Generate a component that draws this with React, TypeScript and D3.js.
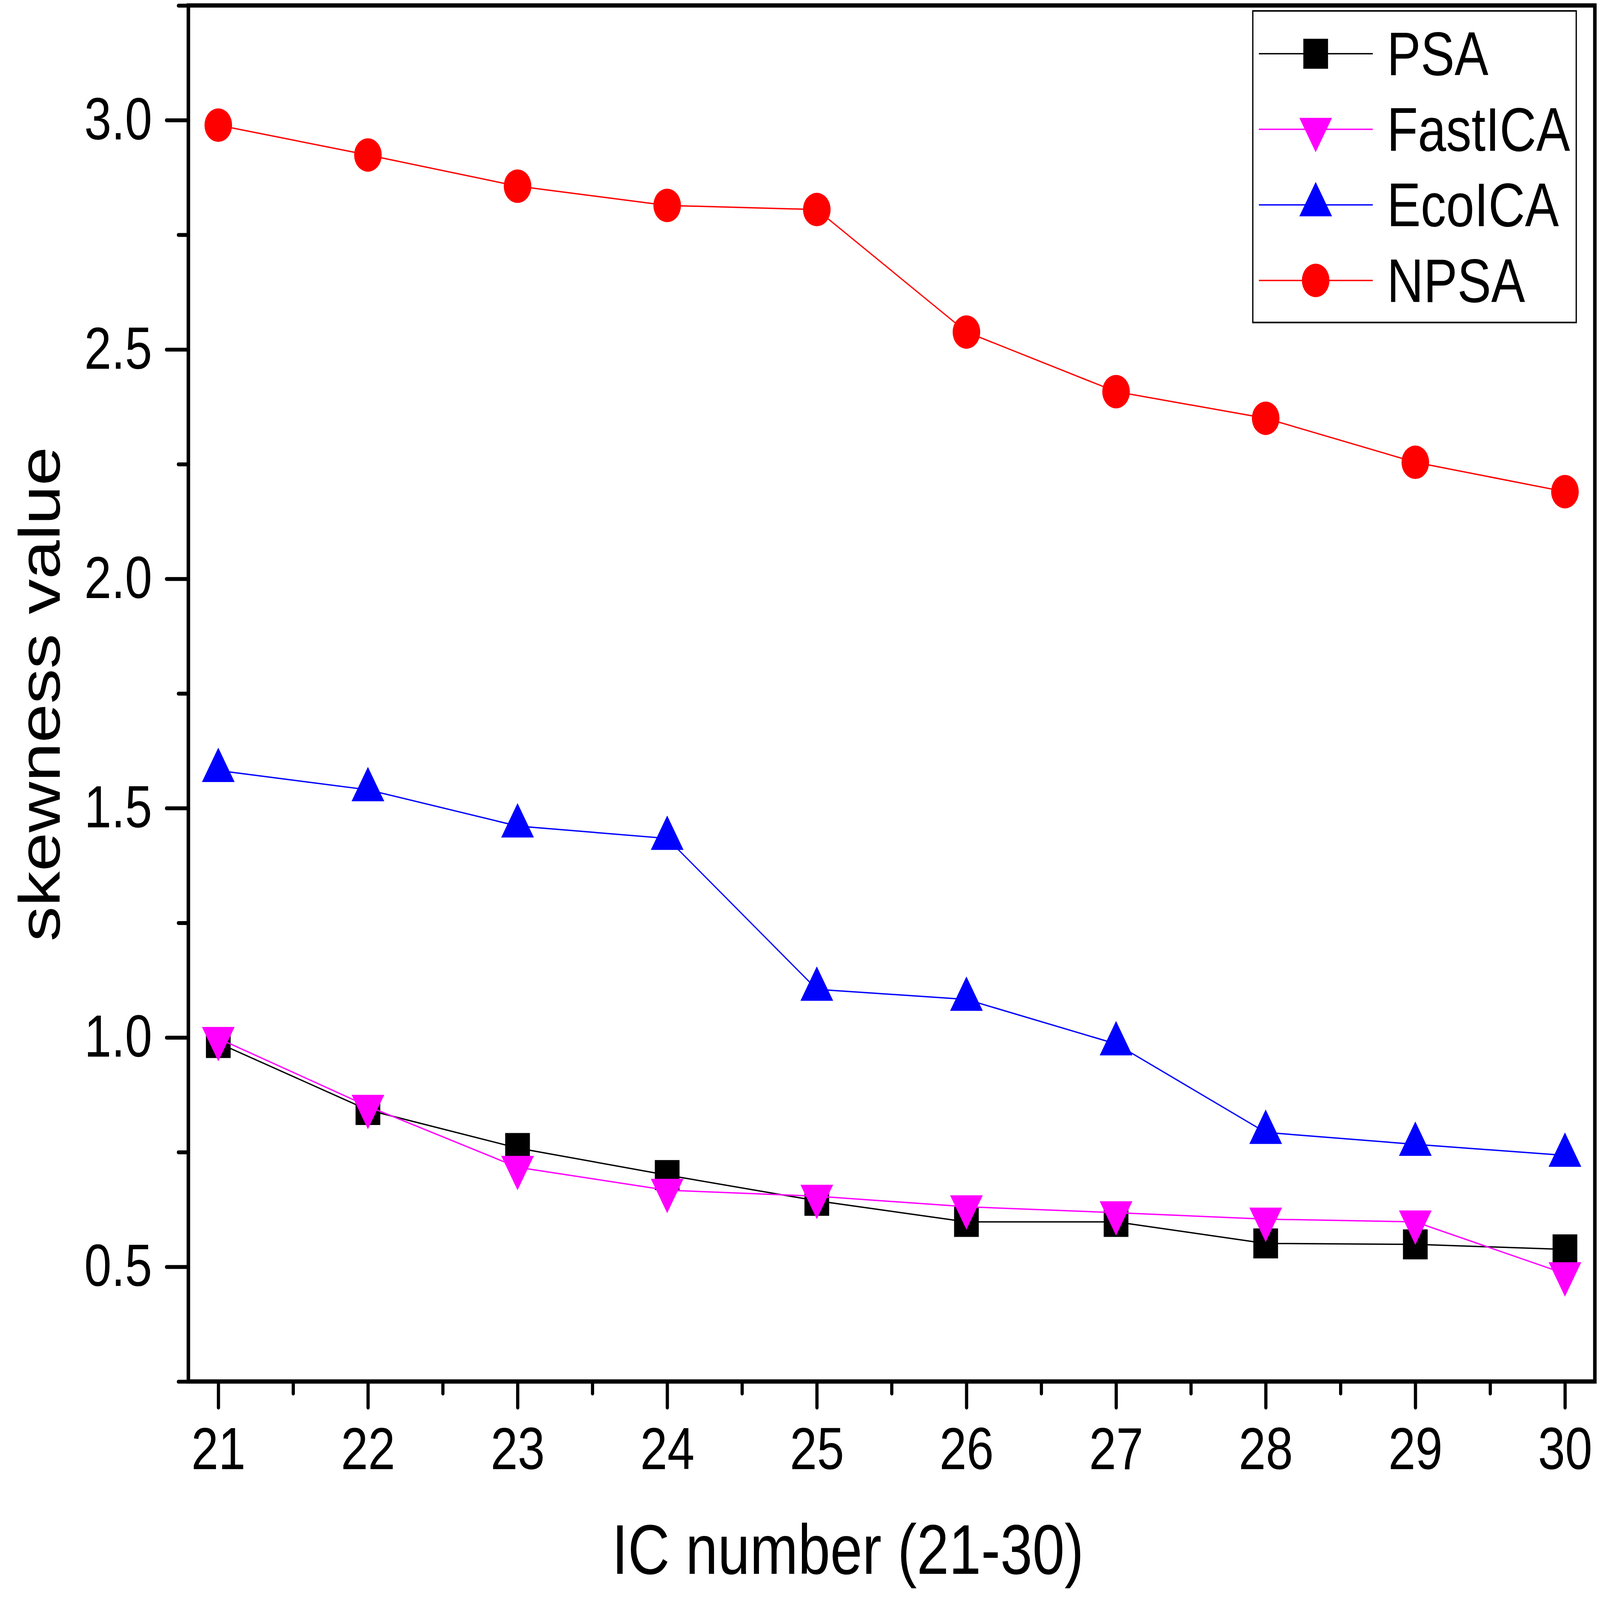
import React, { useEffect, useRef } from 'react'
import * as d3 from 'd3'

const icNumbers = [21, 22, 23, 24, 25, 26, 27, 28, 29, 30]
const psa = [0.988, 0.842, 0.759, 0.7, 0.644, 0.598, 0.598, 0.551, 0.549, 0.538]
const fastIca = [0.998, 0.85, 0.717, 0.667, 0.654, 0.631, 0.618, 0.604, 0.598, 0.485]
const ecoIca = [1.582, 1.54, 1.461, 1.434, 1.105, 1.083, 0.986, 0.793, 0.767, 0.743]
const npsa = [2.989, 2.924, 2.856, 2.814, 2.805, 2.538, 2.408, 2.35, 2.254, 2.19]

const xMajor = [21, 22, 23, 24, 25, 26, 27, 28, 29, 30]
const xMinor = [21.5, 22.5, 23.5, 24.5, 25.5, 26.5, 27.5, 28.5, 29.5]
const yMajor = [0.5, 1.0, 1.5, 2.0, 2.5, 3.0]
const yMinor = [0.25, 0.75, 1.25, 1.75, 2.25, 2.75, 3.25]

const seriesNames = ['PSA', 'FastICA', 'EcoICA', 'NPSA']

export default function App() {
  const svgRef = useRef<SVGSVGElement>(null)

  useEffect(() => {
    if (!svgRef.current) return
    document.body.style.margin = '0'
    document.body.style.overflow = 'hidden'

    const width = 4986
    const height = 4108
    const font = "'Liberation Sans', Arial, sans-serif"

    const left = 587, right = 4970, top = 14, bottom = 3547

    const x = d3.scaleLinear().domain([20.8, 30.2]).range([left, right])
    const y = d3.scaleLinear().domain([0.25, 3.25]).range([bottom, top])

    const svg = d3.select(svgRef.current)
    svg.selectAll('*').remove()
    svg.attr('viewBox', [0, 0, width, height])
      .attr('preserveAspectRatio', 'none')
      .style('font-family', font)
      .style('background', '#fff')

    const series = [
      { name: seriesNames[0], values: psa, color: '#000000', symbol: d3.symbolSquare, size: 77 * 77, rotate: 0 },
      { name: seriesNames[1], values: fastIca, color: '#FF00FF', symbol: d3.symbolTriangle, size: 4500, rotate: 180 },
      { name: seriesNames[2], values: ecoIca, color: '#0000FF', symbol: d3.symbolTriangle, size: 4500, rotate: 0 },
      { name: seriesNames[3], values: npsa, color: '#FF0000', symbol: d3.symbolCircle, size: Math.PI * 43 * 43, rotate: 0 }
    ]

    // axes
    const xAxis = svg.append('g').attr('transform', `translate(0,${bottom})`)
    xAxis.call(d3.axisBottom(x).tickValues(xMajor).tickSize(67).tickPadding(50).tickFormat(d3.format('d')))
    const xAxisMinor = svg.append('g').attr('transform', `translate(0,${bottom})`)
    xAxisMinor.call(d3.axisBottom(x).tickValues(xMinor).tickSize(31).tickFormat(() => ''))

    const yAxis = svg.append('g').attr('transform', `translate(${left},0)`)
    yAxis.call(d3.axisLeft(y).tickValues(yMajor).tickSize(68).tickPadding(45).tickFormat(d3.format('.1f')))
    const yAxisMinor = svg.append('g').attr('transform', `translate(${left},0)`)
    yAxisMinor.call(d3.axisLeft(y).tickValues(yMinor).tickSize(31).tickFormat(() => ''))

    svg.selectAll('.domain').remove()
    svg.selectAll('.tick line')
      .attr('stroke', '#000')
      .attr('stroke-width', 10)
      .attr('stroke-linecap', 'round')
    svg.selectAll('.tick text')
      .attr('fill', '#000')
      .style('font-family', font)
      .style('font-size', '152px')

    svg.append('rect')
      .attr('x', left).attr('y', top)
      .attr('width', right - left).attr('height', bottom - top)
      .attr('fill', 'none').attr('stroke', '#000').attr('stroke-width', 11)

    // series
    const line = d3.line<number>()
      .x((_, i) => x(icNumbers[i]))
      .y(d => y(d))

    series.forEach(s => {
      const g = svg.append('g')
      g.append('path')
        .attr('d', line(s.values))
        .attr('fill', 'none')
        .attr('stroke', s.color)
        .attr('stroke-width', 3.5)
      g.selectAll('path.mark')
        .data(s.values)
        .join('path')
        .attr('class', 'mark')
        .attr('d', d3.symbol(s.symbol, s.size)())
        .attr('transform', (d, i) => `translate(${x(icNumbers[i])},${y(d)}) rotate(${s.rotate})`)
        .attr('fill', s.color)
    })

    // axis titles
    svg.append('text')
      .attr('x', 2642).attr('y', 4041)
      .attr('text-anchor', 'middle')
      .style('font-size', '180px')
      .text('IC number (21-30)')

    svg.append('text')
      .attr('transform', `translate(186,1782) rotate(-90)`)
      .attr('text-anchor', 'middle')
      .style('font-size', '180px')
      .text('skewness value')

    // legend
    const legend = svg.append('g')
    legend.append('rect')
      .attr('x', 3904).attr('y', 28)
      .attr('width', 1008).attr('height', 800)
      .attr('fill', '#fff').attr('stroke', '#000').attr('stroke-width', 4)

    series.forEach((s, i) => {
      const cy = 138 + i * 194
      legend.append('line')
        .attr('x1', 3923).attr('x2', 4278)
        .attr('y1', cy).attr('y2', cy)
        .attr('stroke', s.color).attr('stroke-width', 3.5)
      legend.append('path')
        .attr('d', d3.symbol(s.symbol, s.size)())
        .attr('transform', `translate(4100,${cy}) rotate(${s.rotate})`)
        .attr('fill', s.color)
      legend.append('text')
        .attr('x', 4322).attr('y', cy + 55)
        .style('font-size', '158px')
        .text(s.name)
    })
  }, [])

  return (
    <svg
      ref={svgRef}
      style={{ position: 'absolute', left: 0, top: 0, width: '100vw', height: '100vh', display: 'block' }}
    ></svg>
  )
}
